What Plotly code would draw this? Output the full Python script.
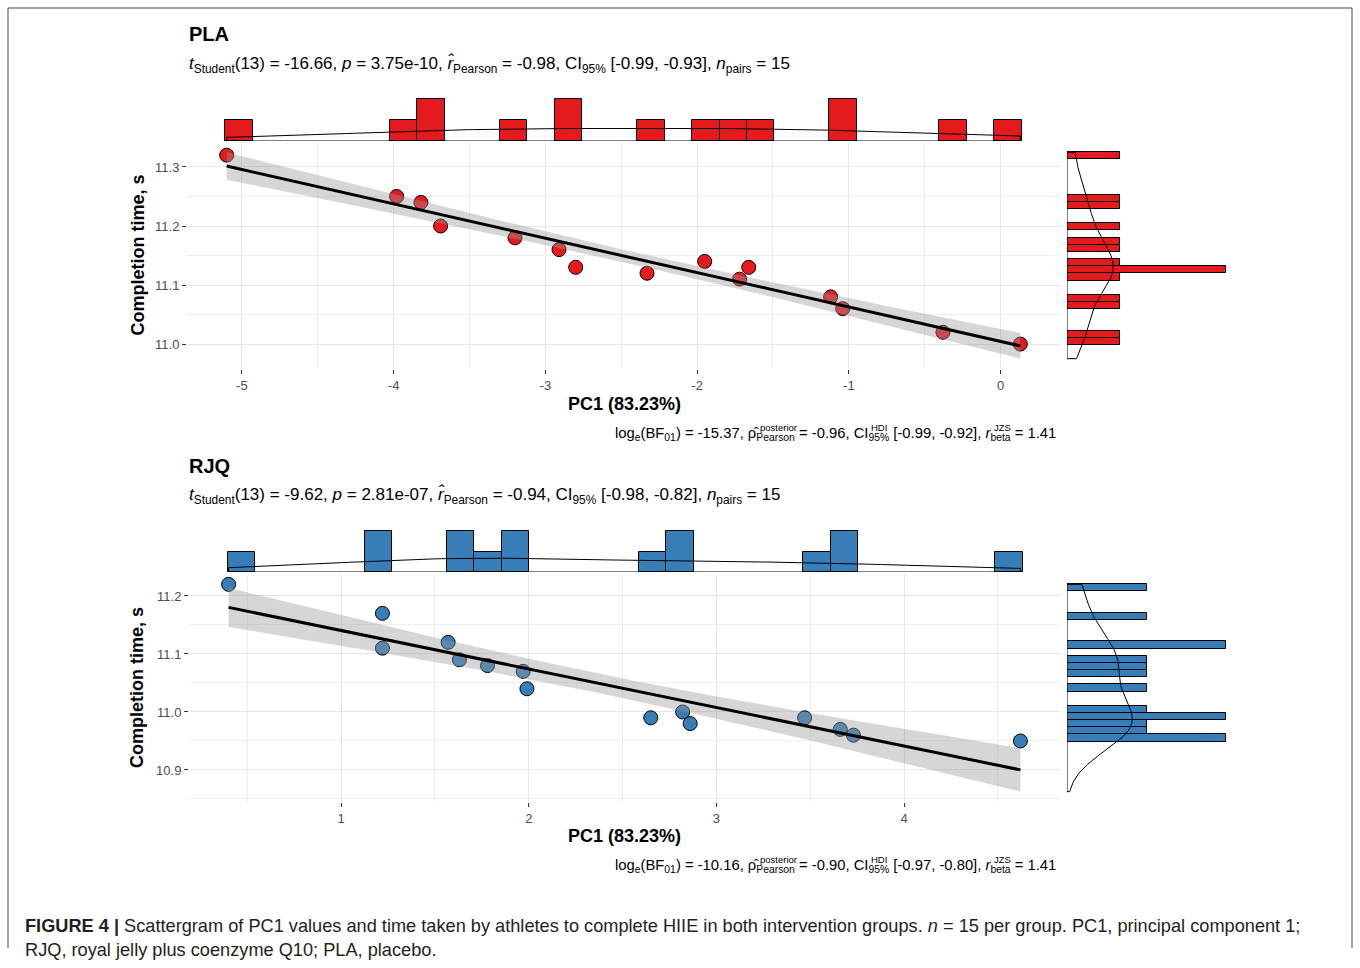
import numpy as np
import plotly.graph_objects as go

W, H = 1360, 968
FONT = "Liberation Sans, Arial, sans-serif"

# ---- data -------------------------------------------------------------
pla_pc1 = [-5.10, -3.98, -3.82, -3.69, -3.20, -2.91, -2.80, -2.33,
           -1.95, -1.72, -1.66, -1.12, -1.04, -0.38, 0.13]
pla_time = [11.32, 11.25, 11.24, 11.20, 11.18, 11.16, 11.13, 11.12,
            11.14, 11.11, 11.13, 11.08, 11.06, 11.02, 11.00]

rjq_pc1 = [0.40, 1.22, 1.22, 1.57, 1.63, 1.78, 1.97, 1.99,
           2.65, 2.82, 2.86, 3.47, 3.66, 3.73, 4.62]
rjq_time = [11.22, 11.17, 11.11, 11.12, 11.09, 11.08, 11.07, 11.04,
            10.99, 11.00, 10.98, 10.99, 10.97, 10.96, 10.95]

group_names = ["PLA", "RJQ"]
group_colors = ["#E41A1C", "#377EB8"]

freq_stats = [
    "<i>t</i><sub>Student</sub>(13) = -16.66, <i>p</i> = 3.75e-10, "
    "<i>r̂</i><sub>Pearson</sub> = -0.98, CI<sub>95%</sub> [-0.99, -0.93], "
    "<i>n</i><sub>pairs</sub> = 15",
    "<i>t</i><sub>Student</sub>(13) = -9.62, <i>p</i> = 2.81e-07, "
    "<i>r̂</i><sub>Pearson</sub> = -0.94, CI<sub>95%</sub> [-0.98, -0.82], "
    "<i>n</i><sub>pairs</sub> = 15",
]
bayes_stats = [
    "log<sub>e</sub>(BF<sub>01</sub>) = -15.37, ρ̂<sub>Pearson</sub> = -0.96, "
    "CI<sub>95%</sub> [-0.99, -0.92], <i>r</i><sub>beta</sub> = 1.41",
    "log<sub>e</sub>(BF<sub>01</sub>) = -10.16, ρ̂<sub>Pearson</sub> = -0.90, "
    "CI<sub>95%</sub> [-0.97, -0.80], <i>r</i><sub>beta</sub> = 1.41",
]
bayes_sups = ["posterior", "HDI", "JZS"]
bayes_sup_left = [758, 869, 992]

x_title = "PC1 (83.23%)"
y_title = "Completion time, s"

# histogram bins (start, size) for the marginal plots
x_bins = [(-5.11, 0.181), (0.395, 0.1461)]
y_bins = [(10.9985, 0.01212), (10.949, 0.01233)]

T_975_DF13 = 2.160  # Student t quantile for the 95% band, 13 df

# ---- layout boxes (pixels) --------------------------------------------
panels = [
    dict(main_x=(187, 1060), main_y=(142, 369), top_y=(97, 141), side_x=(1067, 1234),
         title_y=34, sub_y=64, xtitle_y=404, bayes_y=434),
    dict(main_x=(189, 1060), main_y=(574, 802), top_y=(529, 572), side_x=(1067, 1234),
         title_y=466, sub_y=496, xtitle_y=836, bayes_y=866),
]


def fx(p):
    return p / W


def fy(p):
    return 1 - p / H


def kde(data, grid):
    d = np.asarray(data, float)
    n = len(d)
    sd = d.std(ddof=1)
    q75, q25 = np.percentile(d, [75, 25])
    bw = 0.9 * min(sd, (q75 - q25) / 1.34) * n ** -0.2
    z = (grid[:, None] - d[None, :]) / bw
    return np.exp(-0.5 * z ** 2).sum(1) / (n * bw * np.sqrt(2 * np.pi))


def fit_band(x, y, grid):
    x = np.asarray(x, float)
    y = np.asarray(y, float)
    n = len(x)
    b1, b0 = np.polyfit(x, y, 1)
    fit = b0 + b1 * grid
    resid = y - (b0 + b1 * x)
    s = np.sqrt((resid ** 2).sum() / (n - 2))
    sxx = ((x - x.mean()) ** 2).sum()
    se = s * np.sqrt(1 / n + (grid - x.mean()) ** 2 / sxx)
    return fit, fit - T_975_DF13 * se, fit + T_975_DF13 * se


def fmt(v):
    return f"{v:g}"


fig = go.Figure()
layout = dict(
    width=W, height=H, margin=dict(l=0, r=0, t=0, b=0),
    paper_bgcolor="white", plot_bgcolor="white", showlegend=False,
    bargap=0, font=dict(family=FONT, color="#1a1a1a"),
    annotations=[], shapes=[],
)

GRID = "#e5e5e5"
MINOR = "#eeeeee"

datasets = [(pla_pc1, pla_time), (rjq_pc1, rjq_time)]

for i, (xs, ys) in enumerate(datasets):
    p = panels[i]
    color = group_colors[i]
    n_main, n_top, n_side = 3 * i + 1, 3 * i + 2, 3 * i + 3
    ax = lambda k: "" if k == 1 else str(k)

    xa = np.asarray(xs, float)
    ya = np.asarray(ys, float)
    xmin, xmax = xa.min(), xa.max()
    grid = np.linspace(xmin, xmax, 120)
    fit, lo, hi = fit_band(xa, ya, grid)

    ylo = min(ya.min(), lo.min())
    yhi = max(ya.max(), hi.max())
    ypad = 0.05 * (yhi - ylo)
    yrange = [ylo - ypad, yhi + ypad]
    xpad = 0.05 * (xmax - xmin)
    xrange = [xmin - xpad, xmax + xpad]

    # main scatter
    fig.add_trace(go.Scatter(
        x=xs, y=ys, mode="markers",
        marker=dict(size=14, color=color, line=dict(color="black", width=1)),
        xaxis="x" + ax(n_main), yaxis="y" + ax(n_main), hoverinfo="skip"))
    # confidence band
    fig.add_trace(go.Scatter(
        x=np.concatenate([grid, grid[::-1]]), y=np.concatenate([hi, lo[::-1]]),
        fill="toself", fillcolor="rgba(153,153,153,0.4)", line=dict(width=0),
        mode="lines", xaxis="x" + ax(n_main), yaxis="y" + ax(n_main), hoverinfo="skip"))
    # regression line
    fig.add_trace(go.Scatter(
        x=grid, y=fit, mode="lines", line=dict(color="black", width=3),
        xaxis="x" + ax(n_main), yaxis="y" + ax(n_main), hoverinfo="skip"))

    # top marginal: histogram + density of PC1
    xs0, xsz = x_bins[i]
    fig.add_trace(go.Histogram(
        x=xs, histnorm="probability density",
        xbins=dict(start=xs0, end=xs0 + 32 * xsz, size=xsz),
        marker=dict(color=color, line=dict(color="black", width=1)),
        xaxis="x" + ax(n_top), yaxis="y" + ax(n_top), hoverinfo="skip"))
    dx = kde(xa, grid)
    fig.add_trace(go.Scatter(
        x=np.concatenate([[xmin], grid, [xmax, xmin]]),
        y=np.concatenate([[0], dx, [0, 0]]),
        mode="lines", line=dict(color="black", width=1),
        xaxis="x" + ax(n_top), yaxis="y" + ax(n_top), hoverinfo="skip"))
    xcounts, _ = np.histogram(xa, bins=xs0 + xsz * np.arange(33))
    xdmax = xcounts.max() / (len(xa) * xsz)

    # side marginal: histogram + density of completion time
    ys0, ysz = y_bins[i]
    fig.add_trace(go.Histogram(
        y=ys, histnorm="probability density",
        ybins=dict(start=ys0, end=ys0 + 32 * ysz, size=ysz),
        marker=dict(color=color, line=dict(color="black", width=1)),
        xaxis="x" + ax(n_side), yaxis="y" + ax(n_side), hoverinfo="skip"))
    ygrid = np.linspace(ylo, yhi, 200)
    dy = kde(ya, ygrid)
    fig.add_trace(go.Scatter(
        x=np.concatenate([[0], dy, [0, 0]]),
        y=np.concatenate([[ylo], ygrid, [yhi, ylo]]),
        mode="lines", line=dict(color="black", width=1),
        xaxis="x" + ax(n_side), yaxis="y" + ax(n_side), hoverinfo="skip"))
    ycounts, _ = np.histogram(ya, bins=ys0 + ysz * np.arange(33))
    ydmax = ycounts.max() / (len(ya) * ysz)

    # ticks
    xt = np.arange(np.ceil(xrange[0]), np.floor(xrange[1]) + 1)
    xminor = np.arange(np.ceil(xrange[0] * 2) / 2, xrange[1], 0.5)
    yt = np.round(np.arange(np.ceil(yrange[0] * 10) / 10, yrange[1] + 1e-9, 0.1), 1)
    yminor = np.round(np.arange(np.ceil(yrange[0] * 20) / 20, yrange[1], 0.05), 2)

    dom_x = [fx(p["main_x"][0]), fx(p["main_x"][1])]
    dom_y = [fy(p["main_y"][1]), fy(p["main_y"][0])]
    tickfont = dict(size=13, color="#4d4d4d", family=FONT)

    layout["xaxis" + ax(n_main)] = dict(
        domain=dom_x, anchor="y" + ax(n_main), range=xrange,
        tickmode="array", tickvals=list(xt), ticktext=[fmt(v) for v in xt],
        ticks="outside", ticklen=4, tickcolor="#333333", tickwidth=1,
        tickfont=tickfont, showgrid=True, gridcolor=GRID, gridwidth=1,
        minor=dict(tickmode="array", tickvals=list(xminor), showgrid=True,
                   gridcolor=MINOR, gridwidth=1, ticks=""),
        zeroline=False, showline=False)
    layout["yaxis" + ax(n_main)] = dict(
        domain=dom_y, anchor="x" + ax(n_main), range=yrange,
        tickmode="array", tickvals=list(yt), ticktext=[f"{v:.1f}" for v in yt],
        ticks="outside", ticklen=4, tickcolor="#333333", tickwidth=1,
        tickfont=tickfont, showgrid=True, gridcolor=GRID, gridwidth=1,
        minor=dict(tickmode="array", tickvals=list(yminor), showgrid=True,
                   gridcolor=MINOR, gridwidth=1, ticks=""),
        zeroline=False, showline=False)

    hidden = dict(showgrid=False, zeroline=False, showline=False,
                  showticklabels=False, ticks="")
    layout["xaxis" + ax(n_top)] = dict(domain=dom_x, anchor="y" + ax(n_top),
                                      range=xrange, **hidden)
    layout["yaxis" + ax(n_top)] = dict(domain=[fy(p["top_y"][1]), fy(p["top_y"][0])],
                                      anchor="x" + ax(n_top),
                                      range=[0, xdmax * 1.05], **hidden)
    layout["xaxis" + ax(n_side)] = dict(domain=[fx(p["side_x"][0]), fx(p["side_x"][1])],
                                       anchor="y" + ax(n_side),
                                       range=[0, ydmax * 1.05], **hidden)
    layout["yaxis" + ax(n_side)] = dict(domain=dom_y, anchor="x" + ax(n_side),
                                       range=yrange, **hidden)

    ann = layout["annotations"]
    ann.append(dict(text=f"<b>{group_names[i]}</b>", x=fx(187), y=fy(p["title_y"]),
                    xref="paper", yref="paper", xanchor="left", yanchor="middle",
                    showarrow=False, font=dict(size=20, color="black")))
    ann.append(dict(text=freq_stats[i], x=fx(187), y=fy(p["sub_y"]),
                    xref="paper", yref="paper", xanchor="left", yanchor="middle",
                    showarrow=False, font=dict(size=17, color="black")))
    ann.append(dict(text=f"<b>{x_title}</b>", x=fx(624), y=fy(p["xtitle_y"]),
                    xref="paper", yref="paper", xanchor="center", yanchor="middle",
                    showarrow=False, font=dict(size=18, color="black")))
    ann.append(dict(text=f"<b>{y_title}</b>", x=fx(137),
                    y=fy((p["main_y"][0] + p["main_y"][1]) / 2),
                    xref="paper", yref="paper", xanchor="center", yanchor="middle",
                    textangle=-90, showarrow=False, font=dict(size=18, color="black")))
    ann.append(dict(text=bayes_stats[i], x=fx(1058), y=fy(p["bayes_y"]),
                    xref="paper", yref="paper", xanchor="right", yanchor="middle",
                    showarrow=False, font=dict(size=14.8, color="black")))
    for sup, sx in zip(bayes_sups, bayes_sup_left):
        ann.append(dict(text=sup, x=fx(sx), y=fy(p["bayes_y"] - 7),
                        xref="paper", yref="paper", xanchor="left", yanchor="middle",
                        showarrow=False, font=dict(size=9.5, color="black")))

# figure caption
caption = [
    "<b>FIGURE 4 |</b> Scattergram of PC1 values and time taken by athletes to complete "
    "HIIE in both intervention groups. <i>n</i> = 15 per group. PC1, principal component 1;",
    "RJQ, royal jelly plus coenzyme Q10; PLA, placebo.",
]
for k, line in enumerate(caption):
    layout["annotations"].append(dict(
        text=line, x=fx(23), y=fy(926 + 24 * k), xref="paper", yref="paper",
        xanchor="left", yanchor="middle", showarrow=False,
        font=dict(size=18.2, color="#231f20")))

# frame around the figure
for x0, y0, x1, y1 in [(8, 8, 1352, 8), (8, 8, 8, 948), (1352, 8, 1352, 948)]:
    layout["shapes"].append(dict(type="line", xref="paper", yref="paper",
                                 x0=fx(x0), y0=fy(y0), x1=fx(x1), y1=fy(y1),
                                 line=dict(color="#4a4a4a", width=1)))

fig.update_layout(**layout)
fig.write_html("out.html")
